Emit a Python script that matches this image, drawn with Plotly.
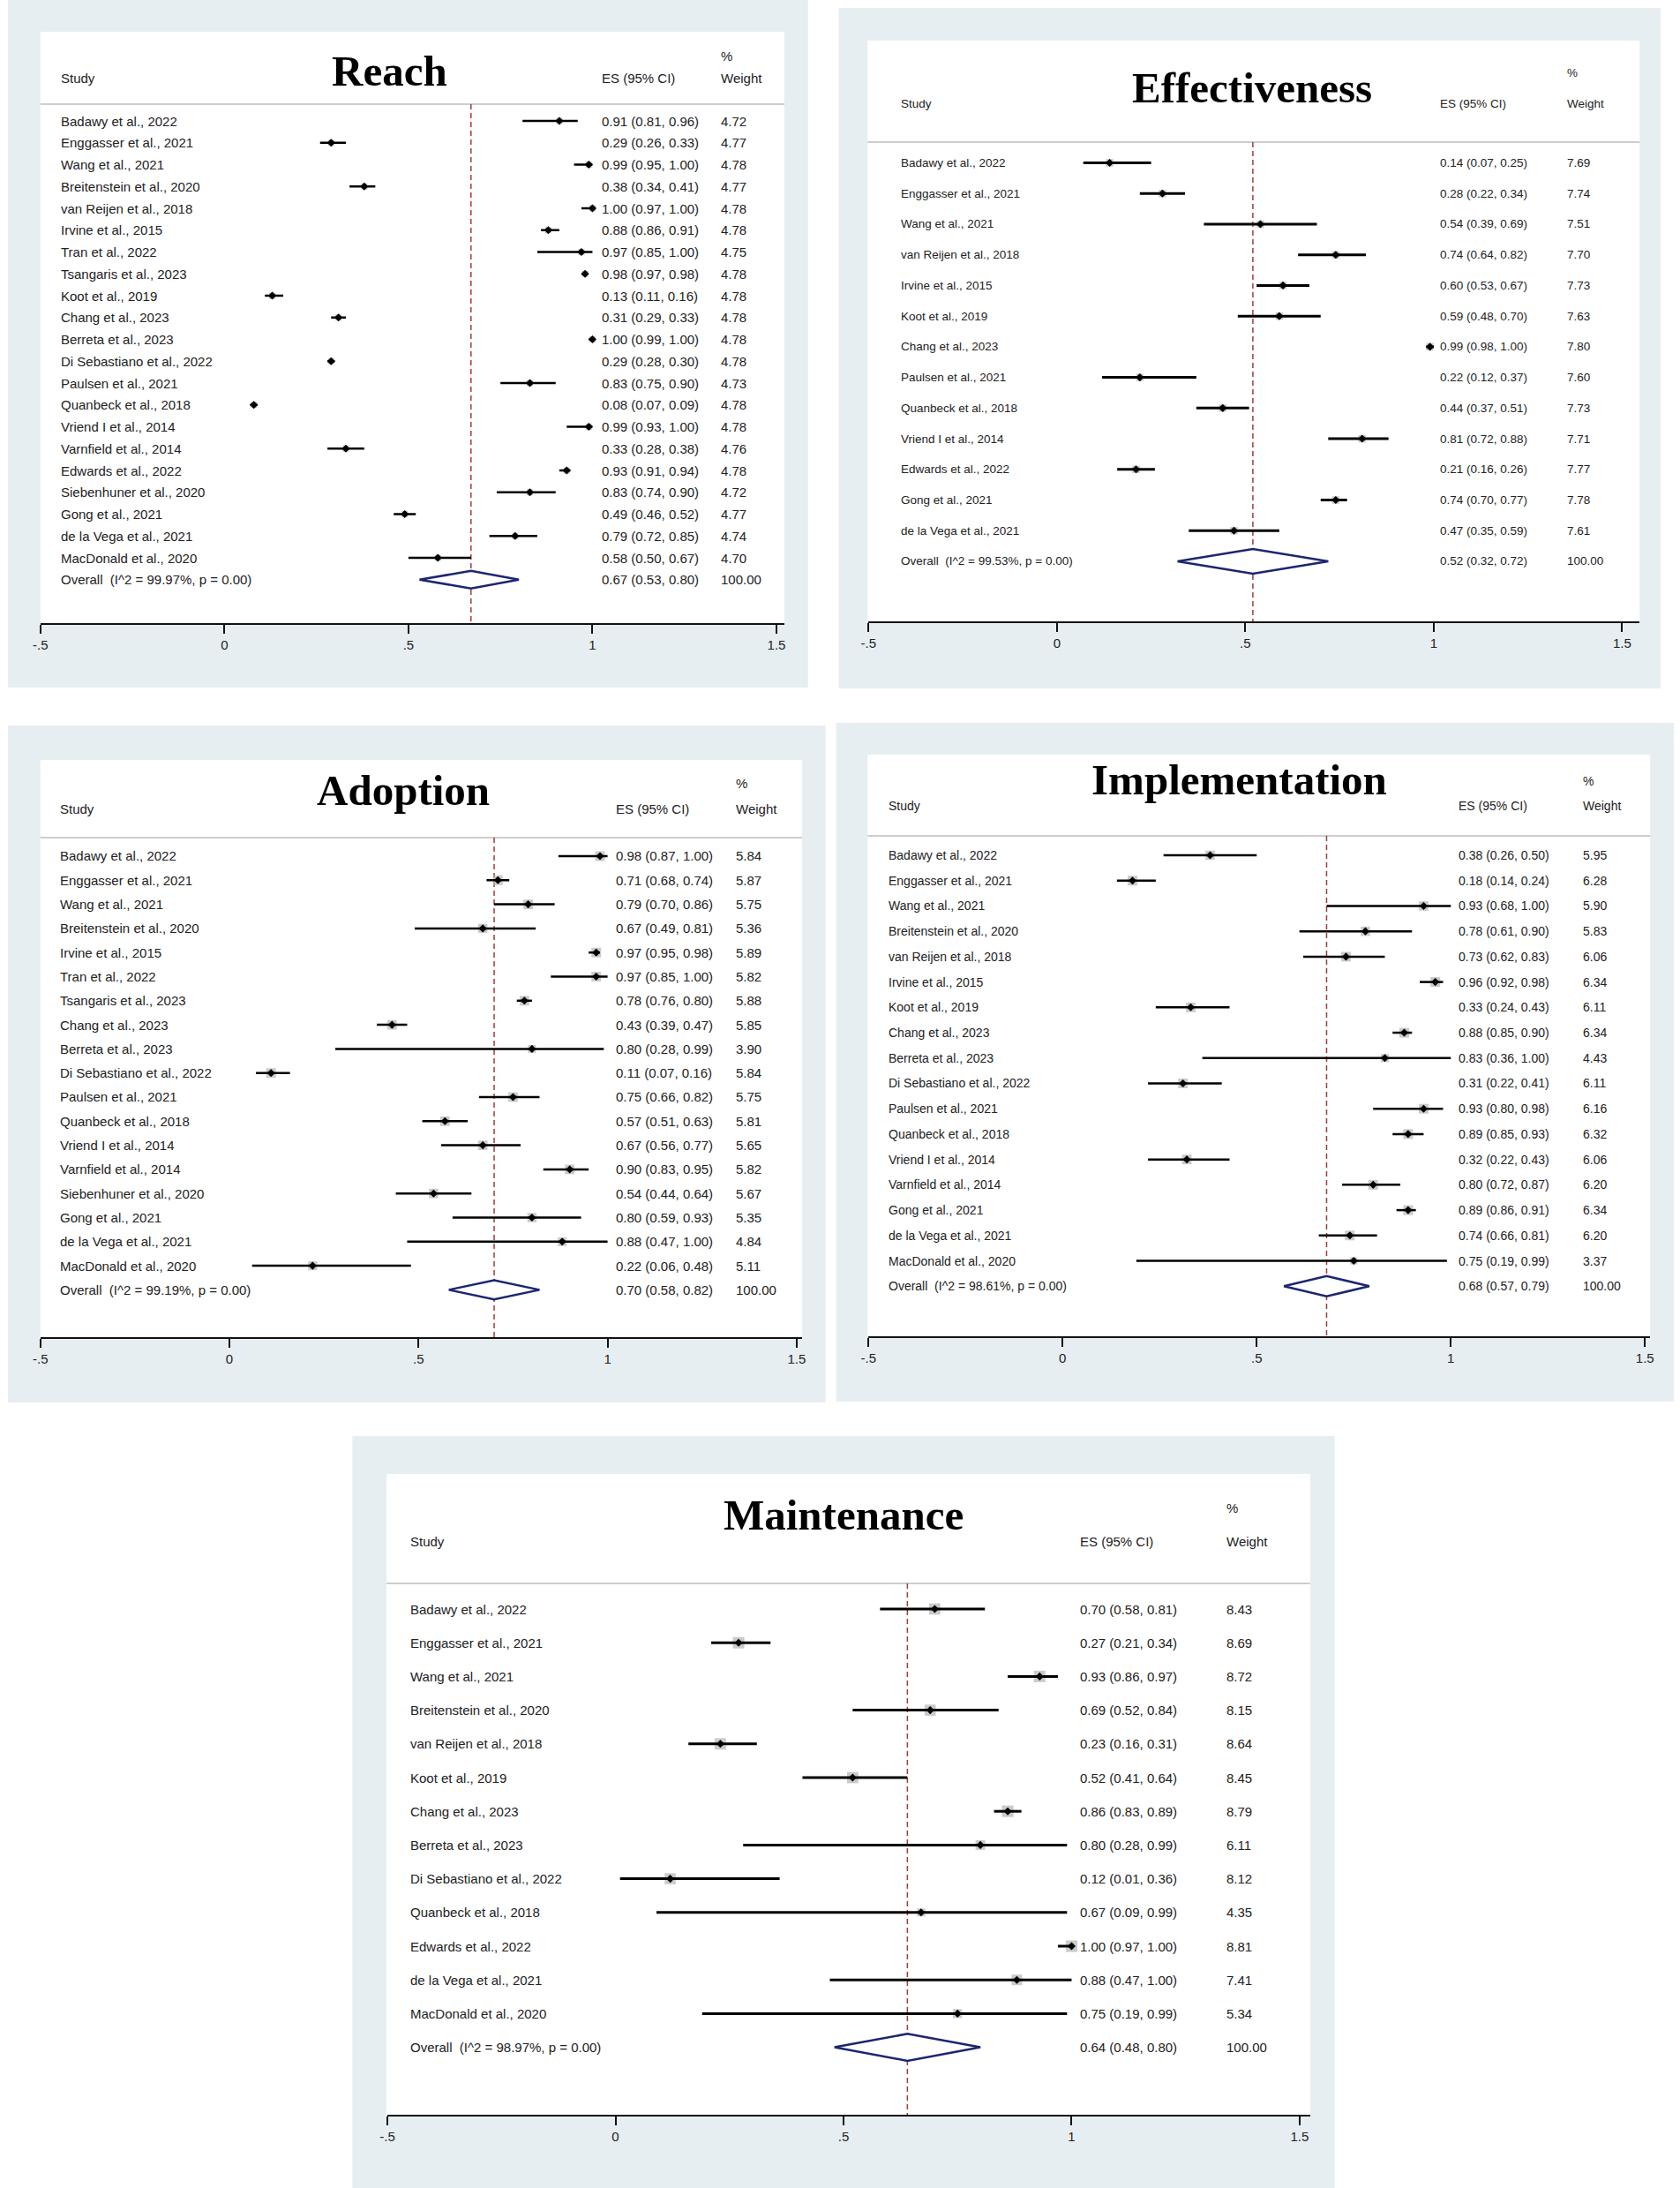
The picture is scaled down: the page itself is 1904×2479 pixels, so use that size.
import plotly.graph_objects as go

W, H = 1904, 2479

# ---------------- DATA ----------------
reach_study = ["Badawy et al., 2022", "Enggasser et al., 2021", "Wang et al., 2021",
               "Breitenstein et al., 2020", "van Reijen et al., 2018", "Irvine et al., 2015",
               "Tran et al., 2022", "Tsangaris et al., 2023", "Koot et al., 2019",
               "Chang et al., 2023", "Berreta et al., 2023", "Di Sebastiano et al., 2022",
               "Paulsen et al., 2021", "Quanbeck et al., 2018", "Vriend I et al., 2014",
               "Varnfield et al., 2014", "Edwards et al., 2022", "Siebenhuner et al., 2020",
               "Gong et al., 2021", "de la Vega et al., 2021", "MacDonald et al., 2020"]
reach_es = [0.91, 0.29, 0.99, 0.38, 1.00, 0.88, 0.97, 0.98, 0.13, 0.31, 1.00, 0.29, 0.83,
            0.08, 0.99, 0.33, 0.93, 0.83, 0.49, 0.79, 0.58]
reach_lo = [0.81, 0.26, 0.95, 0.34, 0.97, 0.86, 0.85, 0.97, 0.11, 0.29, 0.99, 0.28, 0.75,
            0.07, 0.93, 0.28, 0.91, 0.74, 0.46, 0.72, 0.50]
reach_hi = [0.96, 0.33, 1.00, 0.41, 1.00, 0.91, 1.00, 0.98, 0.16, 0.33, 1.00, 0.30, 0.90,
            0.09, 1.00, 0.38, 0.94, 0.90, 0.52, 0.85, 0.67]
reach_wt = [4.72, 4.77, 4.78, 4.77, 4.78, 4.78, 4.75, 4.78, 4.78, 4.78, 4.78, 4.78, 4.73,
            4.78, 4.78, 4.76, 4.78, 4.72, 4.77, 4.74, 4.70]
reach_overall = [0.67, 0.53, 0.80]
reach_i2 = "99.97%"

eff_study = ["Badawy et al., 2022", "Enggasser et al., 2021", "Wang et al., 2021",
             "van Reijen et al., 2018", "Irvine et al., 2015", "Koot et al., 2019",
             "Chang et al., 2023", "Paulsen et al., 2021", "Quanbeck et al., 2018",
             "Vriend I et al., 2014", "Edwards et al., 2022", "Gong et al., 2021",
             "de la Vega et al., 2021"]
eff_es = [0.14, 0.28, 0.54, 0.74, 0.60, 0.59, 0.99, 0.22, 0.44, 0.81, 0.21, 0.74, 0.47]
eff_lo = [0.07, 0.22, 0.39, 0.64, 0.53, 0.48, 0.98, 0.12, 0.37, 0.72, 0.16, 0.70, 0.35]
eff_hi = [0.25, 0.34, 0.69, 0.82, 0.67, 0.70, 1.00, 0.37, 0.51, 0.88, 0.26, 0.77, 0.59]
eff_wt = [7.69, 7.74, 7.51, 7.70, 7.73, 7.63, 7.80, 7.60, 7.73, 7.71, 7.77, 7.78, 7.61]
eff_overall = [0.52, 0.32, 0.72]
eff_i2 = "99.53%"

adop_study = ["Badawy et al., 2022", "Enggasser et al., 2021", "Wang et al., 2021",
              "Breitenstein et al., 2020", "Irvine et al., 2015", "Tran et al., 2022",
              "Tsangaris et al., 2023", "Chang et al., 2023", "Berreta et al., 2023",
              "Di Sebastiano et al., 2022", "Paulsen et al., 2021", "Quanbeck et al., 2018",
              "Vriend I et al., 2014", "Varnfield et al., 2014", "Siebenhuner et al., 2020",
              "Gong et al., 2021", "de la Vega et al., 2021", "MacDonald et al., 2020"]
adop_es = [0.98, 0.71, 0.79, 0.67, 0.97, 0.97, 0.78, 0.43, 0.80, 0.11, 0.75, 0.57, 0.67,
           0.90, 0.54, 0.80, 0.88, 0.22]
adop_lo = [0.87, 0.68, 0.70, 0.49, 0.95, 0.85, 0.76, 0.39, 0.28, 0.07, 0.66, 0.51, 0.56,
           0.83, 0.44, 0.59, 0.47, 0.06]
adop_hi = [1.00, 0.74, 0.86, 0.81, 0.98, 1.00, 0.80, 0.47, 0.99, 0.16, 0.82, 0.63, 0.77,
           0.95, 0.64, 0.93, 1.00, 0.48]
adop_wt = [5.84, 5.87, 5.75, 5.36, 5.89, 5.82, 5.88, 5.85, 3.90, 5.84, 5.75, 5.81, 5.65,
           5.82, 5.67, 5.35, 4.84, 5.11]
adop_overall = [0.70, 0.58, 0.82]
adop_i2 = "99.19%"

impl_study = ["Badawy et al., 2022", "Enggasser et al., 2021", "Wang et al., 2021",
              "Breitenstein et al., 2020", "van Reijen et al., 2018", "Irvine et al., 2015",
              "Koot et al., 2019", "Chang et al., 2023", "Berreta et al., 2023",
              "Di Sebastiano et al., 2022", "Paulsen et al., 2021", "Quanbeck et al., 2018",
              "Vriend I et al., 2014", "Varnfield et al., 2014", "Gong et al., 2021",
              "de la Vega et al., 2021", "MacDonald et al., 2020"]
impl_es = [0.38, 0.18, 0.93, 0.78, 0.73, 0.96, 0.33, 0.88, 0.83, 0.31, 0.93, 0.89, 0.32,
           0.80, 0.89, 0.74, 0.75]
impl_lo = [0.26, 0.14, 0.68, 0.61, 0.62, 0.92, 0.24, 0.85, 0.36, 0.22, 0.80, 0.85, 0.22,
           0.72, 0.86, 0.66, 0.19]
impl_hi = [0.50, 0.24, 1.00, 0.90, 0.83, 0.98, 0.43, 0.90, 1.00, 0.41, 0.98, 0.93, 0.43,
           0.87, 0.91, 0.81, 0.99]
impl_wt = [5.95, 6.28, 5.90, 5.83, 6.06, 6.34, 6.11, 6.34, 4.43, 6.11, 6.16, 6.32, 6.06,
           6.20, 6.34, 6.20, 3.37]
impl_overall = [0.68, 0.57, 0.79]
impl_i2 = "98.61%"

main_study = ["Badawy et al., 2022", "Enggasser et al., 2021", "Wang et al., 2021",
              "Breitenstein et al., 2020", "van Reijen et al., 2018", "Koot et al., 2019",
              "Chang et al., 2023", "Berreta et al., 2023", "Di Sebastiano et al., 2022",
              "Quanbeck et al., 2018", "Edwards et al., 2022", "de la Vega et al., 2021",
              "MacDonald et al., 2020"]
main_es = [0.70, 0.27, 0.93, 0.69, 0.23, 0.52, 0.86, 0.80, 0.12, 0.67, 1.00, 0.88, 0.75]
main_lo = [0.58, 0.21, 0.86, 0.52, 0.16, 0.41, 0.83, 0.28, 0.01, 0.09, 0.97, 0.47, 0.19]
main_hi = [0.81, 0.34, 0.97, 0.84, 0.31, 0.64, 0.89, 0.99, 0.36, 0.99, 1.00, 1.00, 0.99]
main_wt = [8.43, 8.69, 8.72, 8.15, 8.64, 8.45, 8.79, 6.11, 8.12, 4.35, 8.81, 7.41, 5.34]
main_overall = [0.64, 0.48, 0.80]
main_i2 = "98.97%"

tick_vals = [-0.5, 0, 0.5, 1, 1.5]
tick_text = ["-.5", "0", ".5", "1", "1.5"]

# ---------------- STYLE / LAYOUT (pixels) ----------------
BG = "#e6eef2"
TXT = "#222222"
SANS = "Arial, Liberation Sans, sans-serif"
SERIF = "Times New Roman, Liberation Serif, serif"

panels = [
    dict(title="Reach", study=reach_study, es=reach_es, lo=reach_lo, hi=reach_hi, wt=reach_wt,
         ov=reach_overall, i2=reach_i2,
         outer=(0, 0, 913, 779), wx0=37, wx1=886, wtop=36, axis_y=706, t_lo=37, t_hi=877,
         hline=118, row1=137, sp=24.75, tx=435, ty=80, head_y=88, pct_y=63,
         sx=58, ex=676, wx=812, fs=15, k=3.2, lw=2.5),
    dict(title="Effectiveness", study=eff_study, es=eff_es, lo=eff_lo, hi=eff_hi, wt=eff_wt,
         ov=eff_overall, i2=eff_i2,
         outer=(948, 9, 1886, 780), wx0=981, wx1=1862, wtop=46, axis_y=704, t_lo=982, t_hi=1842,
         hline=161, row1=184.5, sp=34.73, tx=1420, ty=100, head_y=117, pct_y=82,
         sx=1017, ex=1632, wx=1777, fs=13.5, k=3.0, lw=3),
    dict(title="Adoption", study=adop_study, es=adop_es, lo=adop_lo, hi=adop_hi, wt=adop_wt,
         ov=adop_overall, i2=adop_i2,
         outer=(0, 822, 933, 1589), wx0=37, wx1=906, wtop=861, axis_y=1515, t_lo=37, t_hi=900,
         hline=949, row1=970, sp=27.3, tx=451, ty=896, head_y=916, pct_y=888,
         sx=57, ex=692, wx=829, fs=15, k=4.5, lw=2.5),
    dict(title="Implementation", study=impl_study, es=impl_es, lo=impl_lo, hi=impl_hi, wt=impl_wt,
         ov=impl_overall, i2=impl_i2,
         outer=(945, 819, 1901, 1588), wx0=981, wx1=1874, wtop=855, axis_y=1514, t_lo=982, t_hi=1868,
         hline=947, row1=969, sp=28.72, tx=1405, ty=883, head_y=913, pct_y=885,
         sx=1003, ex=1653, wx=1795, fs=14, k=4.4, lw=2.5),
    dict(title="Maintenance", study=main_study, es=main_es, lo=main_lo, hi=main_hi, wt=main_wt,
         ov=main_overall, i2=main_i2,
         outer=(393, 1627, 1514, 2479), wx0=432, wx1=1486, wtop=1670, axis_y=2396, t_lo=433, t_hi=1474,
         hline=1794, row1=1823, sp=38.2, tx=954, ty=1716, head_y=1747, pct_y=1708,
         sx=457, ex=1221, wx=1388, fs=15, k=4.4, lw=3),
]

fig = go.Figure()
shapes = []
annotations = []
layout_axes = {}


def px(x):
    return x / W


def py(y):
    return 1 - y / H


for n, P in enumerate(panels, start=1):
    xname = "x" if n == 1 else f"x{n}"
    yname = "y" if n == 1 else f"y{n}"
    xkey = "xaxis" if n == 1 else f"xaxis{n}"
    ykey = "yaxis" if n == 1 else f"yaxis{n}"

    # background panel and white plot region
    ox0, oy0, ox1, oy1 = P["outer"]
    shapes.append(dict(type="rect", xref="paper", yref="paper", x0=px(ox0), x1=px(ox1),
                       y0=py(oy1), y1=py(oy0), fillcolor=BG, line=dict(width=0), layer="below"))
    shapes.append(dict(type="rect", xref="paper", yref="paper", x0=px(P["wx0"]), x1=px(P["wx1"]),
                       y0=py(P["axis_y"]), y1=py(P["wtop"]), fillcolor="white",
                       line=dict(width=0), layer="below"))
    # header separator
    shapes.append(dict(type="line", xref="paper", yref="paper", x0=px(P["wx0"]), x1=px(P["wx1"]),
                       y0=py(P["hline"]), y1=py(P["hline"]),
                       line=dict(color="#cdcdcd", width=2), layer="below"))

    # axes
    unit = (P["t_hi"] - P["t_lo"]) / 2.0
    xr1 = -0.5 + (P["wx1"] - P["t_lo"]) / unit
    r_top = 1 + (P["wtop"] - P["row1"]) / P["sp"]
    r_bot = 1 + (P["axis_y"] - P["row1"]) / P["sp"]
    r_head = 1 + (P["hline"] - P["row1"]) / P["sp"]
    layout_axes[xkey] = dict(domain=[px(P["t_lo"]), px(P["wx1"])], range=[-0.5, xr1],
                             anchor=yname, showgrid=False, zeroline=False, showline=True,
                             linecolor="#111111", linewidth=2, ticks="outside", ticklen=10,
                             tickwidth=2, tickcolor="#111111", tickvals=tick_vals,
                             ticktext=tick_text, tickfont=dict(family=SANS, size=15, color=TXT),
                             fixedrange=True)
    layout_axes[ykey] = dict(domain=[py(P["axis_y"]), py(P["wtop"])], range=[r_bot, r_top],
                             anchor=xname, visible=False, fixedrange=True)

    nrow = len(P["study"])
    rows = list(range(1, nrow + 1))
    orow = nrow + 1
    es_ov, lo_ov, hi_ov = P["ov"]

    # reference (overall) dashed line
    fig.add_trace(go.Scatter(x=[es_ov, es_ov], y=[r_head, r_bot], mode="lines",
                             line=dict(color="#a23b3b", width=1.5, dash="6px,4px"),
                             xaxis=xname, yaxis=yname, hoverinfo="skip", showlegend=False))
    # weight boxes
    fig.add_trace(go.Scatter(x=P["es"], y=rows, mode="markers",
                             marker=dict(symbol="square", color="#b3b3b3",
                                         size=[P["k"] * (w ** 0.5) for w in P["wt"]],
                                         line=dict(width=0)),
                             xaxis=xname, yaxis=yname, hoverinfo="skip", showlegend=False))
    # confidence intervals
    cx, cy = [], []
    for lo, hi, r in zip(P["lo"], P["hi"], rows):
        cx += [lo, hi, None]
        cy += [r, r, None]
    fig.add_trace(go.Scatter(x=cx, y=cy, mode="lines", line=dict(color="black", width=P["lw"]),
                             xaxis=xname, yaxis=yname, hoverinfo="skip", showlegend=False))
    # point estimates
    fig.add_trace(go.Scatter(x=P["es"], y=rows, mode="markers",
                             marker=dict(symbol="diamond", color="black", size=7),
                             xaxis=xname, yaxis=yname, showlegend=False,
                             text=P["study"], hovertemplate="%{text}: %{x:.2f}<extra></extra>"))
    # overall diamond
    fig.add_trace(go.Scatter(x=[lo_ov, es_ov, hi_ov, es_ov, lo_ov],
                             y=[orow, orow - 0.4, orow, orow + 0.4, orow],
                             mode="lines", fill="toself", fillcolor="white",
                             line=dict(color="#1c2670", width=2.5),
                             xaxis=xname, yaxis=yname, hoverinfo="skip", showlegend=False))

    f = dict(family=SANS, size=P["fs"], color=TXT)
    # title
    annotations.append(dict(text=f"<b>{P['title']}</b>", x=px(P["tx"]), y=py(P["ty"]),
                            xref="paper", yref="paper", xanchor="center", yanchor="middle",
                            showarrow=False, font=dict(family=SERIF, size=49, color="black")))
    # header
    for txt, xx, yy in [("Study", P["sx"], P["head_y"]), ("ES (95% CI)", P["ex"], P["head_y"]),
                        ("%", P["wx"], P["pct_y"]), ("Weight", P["wx"], P["head_y"])]:
        annotations.append(dict(text=txt, x=px(xx), y=py(yy), xref="paper", yref="paper",
                                xanchor="left", yanchor="middle", showarrow=False, font=f))
    # rows
    for s, e, lo, hi, w, r in zip(P["study"], P["es"], P["lo"], P["hi"], P["wt"], rows):
        for txt, xx in [(s, P["sx"]), (f"{e:.2f} ({lo:.2f}, {hi:.2f})", P["ex"]), (f"{w:.2f}", P["wx"])]:
            annotations.append(dict(text=txt, x=px(xx), y=r, xref="paper", yref=yname,
                                    xanchor="left", yanchor="middle", showarrow=False, font=f))
    # overall row
    for txt, xx in [(f"Overall\u00a0 (I^2 = {P['i2']}, p = 0.00)", P["sx"]),
                    (f"{es_ov:.2f} ({lo_ov:.2f}, {hi_ov:.2f})", P["ex"]), ("100.00", P["wx"])]:
        annotations.append(dict(text=txt, x=px(xx), y=orow, xref="paper", yref=yname,
                                xanchor="left", yanchor="middle", showarrow=False, font=f))

fig.update_layout(width=W, height=H, margin=dict(l=0, r=0, t=0, b=0),
                  paper_bgcolor="white", plot_bgcolor="rgba(0,0,0,0)",
                  shapes=shapes, annotations=annotations, showlegend=False, **layout_axes)

fig.write_html("out.html", config={"displayModeBar": False},
               post_script="document.body.style.margin='0px';document.body.style.overflow='hidden';")
